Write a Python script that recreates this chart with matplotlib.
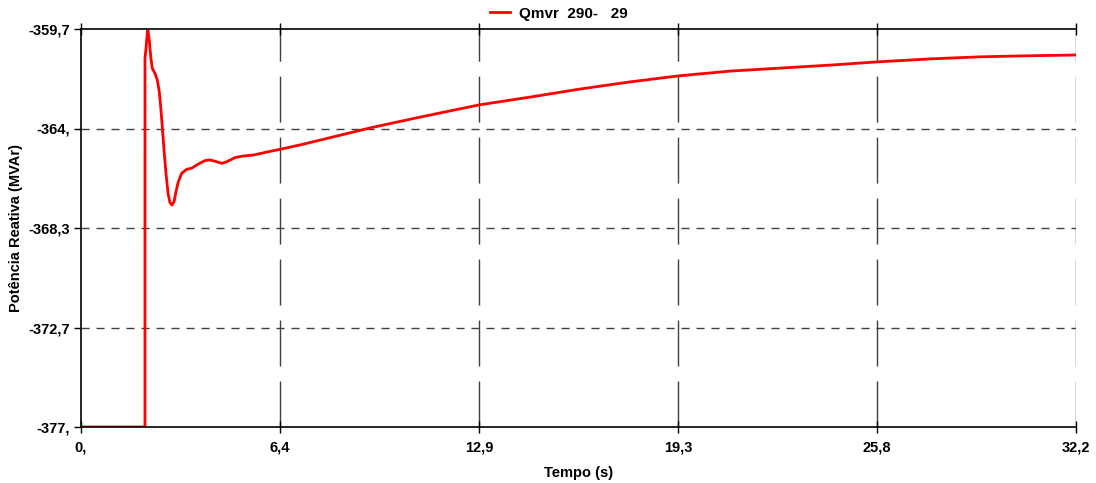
import numpy as np
import matplotlib.pyplot as plt

plt.rcParams['font.family'] = ['Liberation Sans', 'DejaVu Sans']
plt.rcParams['font.weight'] = 'bold'

# Qmvr 290-29 reactive power
tempo = [0.0, 2.07, 2.071, 2.10, 2.13, 2.159, 2.21, 2.256, 2.307, 2.395,
         2.469, 2.534, 2.579, 2.631, 2.686, 2.751, 2.816, 2.88, 2.945, 3.01,
         3.074, 3.149, 3.259, 3.421, 3.583, 3.796, 4.013, 4.175, 4.392, 4.553,
         4.715, 4.984, 5.252, 5.576, 6.01, 6.44, 7.087, 7.735, 9.353, 10.971,
         12.88, 14.531, 16.149, 17.767, 19.32, 21.003, 22.621, 24.239, 25.76,
         27.476, 29.094, 30.388, 32.2]
qmvr = [-377.0, -377.0, -360.96, -360.6, -360.1, -359.7, -360.18, -360.90,
        -361.41, -361.63, -361.92, -362.43, -363.08, -363.95, -364.96, -365.97,
        -366.84, -367.25, -367.35, -367.21, -366.77, -366.34, -365.97, -365.80,
        -365.75, -365.57, -365.42, -365.39, -365.47, -365.54, -365.47, -365.29,
        -365.22, -365.18, -365.05, -364.93, -364.74, -364.53, -364.00, -363.53,
        -363.00, -362.66, -362.31, -362.00, -361.74, -361.53, -361.40, -361.27,
        -361.13, -361.00, -360.91, -360.87, -360.83]

xticks = [0.0, 6.44, 12.88, 19.32, 25.76, 32.2]
xlabels = ['0,', '6,4', '12,9', '19,3', '25,8', '32,2']
yticks = [-377.0, -372.675, -368.35, -364.025, -359.7]
ylabels = ['-377,', '-372,7', '-368,3', '-364,', '-359,7']

fig = plt.figure(figsize=(10.96, 4.83), dpi=100)
ax = fig.add_axes([81 / 1096, 56 / 483, 995 / 1096, 398 / 483])

ax.plot(tempo, qmvr, color='#ff0000', lw=2, solid_joinstyle='round',
        label='Qmvr  290-   29')

ax.set_xlim(0, 32.2)
ax.set_ylim(-377.0, -359.7)
ax.set_xticks(xticks)
ax.set_xticklabels(xlabels, fontsize=10.5, fontweight='bold')
ax.set_yticks(yticks)
ax.set_yticklabels(ylabels, fontsize=10.5, fontweight='bold')
ax.tick_params(axis='x', which='both', top=True, direction='inout', length=8, width=1, pad=6)
ax.tick_params(axis='y', direction='out', length=5, width=1, pad=3)

# dash lengths in points (46px on / 15px off, 8px on / 7px off at 100 dpi)
for x in xticks[1:]:
    ax.axvline(x, color='#404040', lw=1, dashes=(33.1, 10.8), zorder=0)
for y in yticks[1:-1]:
    ax.axhline(y, color='#404040', lw=1, dashes=(5.8, 5.0), zorder=0)

ax.spines['right'].set_visible(False)
for s in ['left', 'bottom', 'top']:
    ax.spines[s].set_linewidth(1.2)

ax.set_xlabel('Tempo (s)', fontsize=10.5, fontweight='bold', labelpad=8)
ax.set_ylabel('Potência Reativa (MVAr)', fontsize=10.5, fontweight='bold', labelpad=4)

fig.legend(loc='upper center', bbox_to_anchor=(0.51, 1.015), frameon=False,
           handlelength=1.3, handletextpad=0.6, prop={'size': 11, 'weight': 'bold'})

fig.savefig('out.png', dpi=100)
